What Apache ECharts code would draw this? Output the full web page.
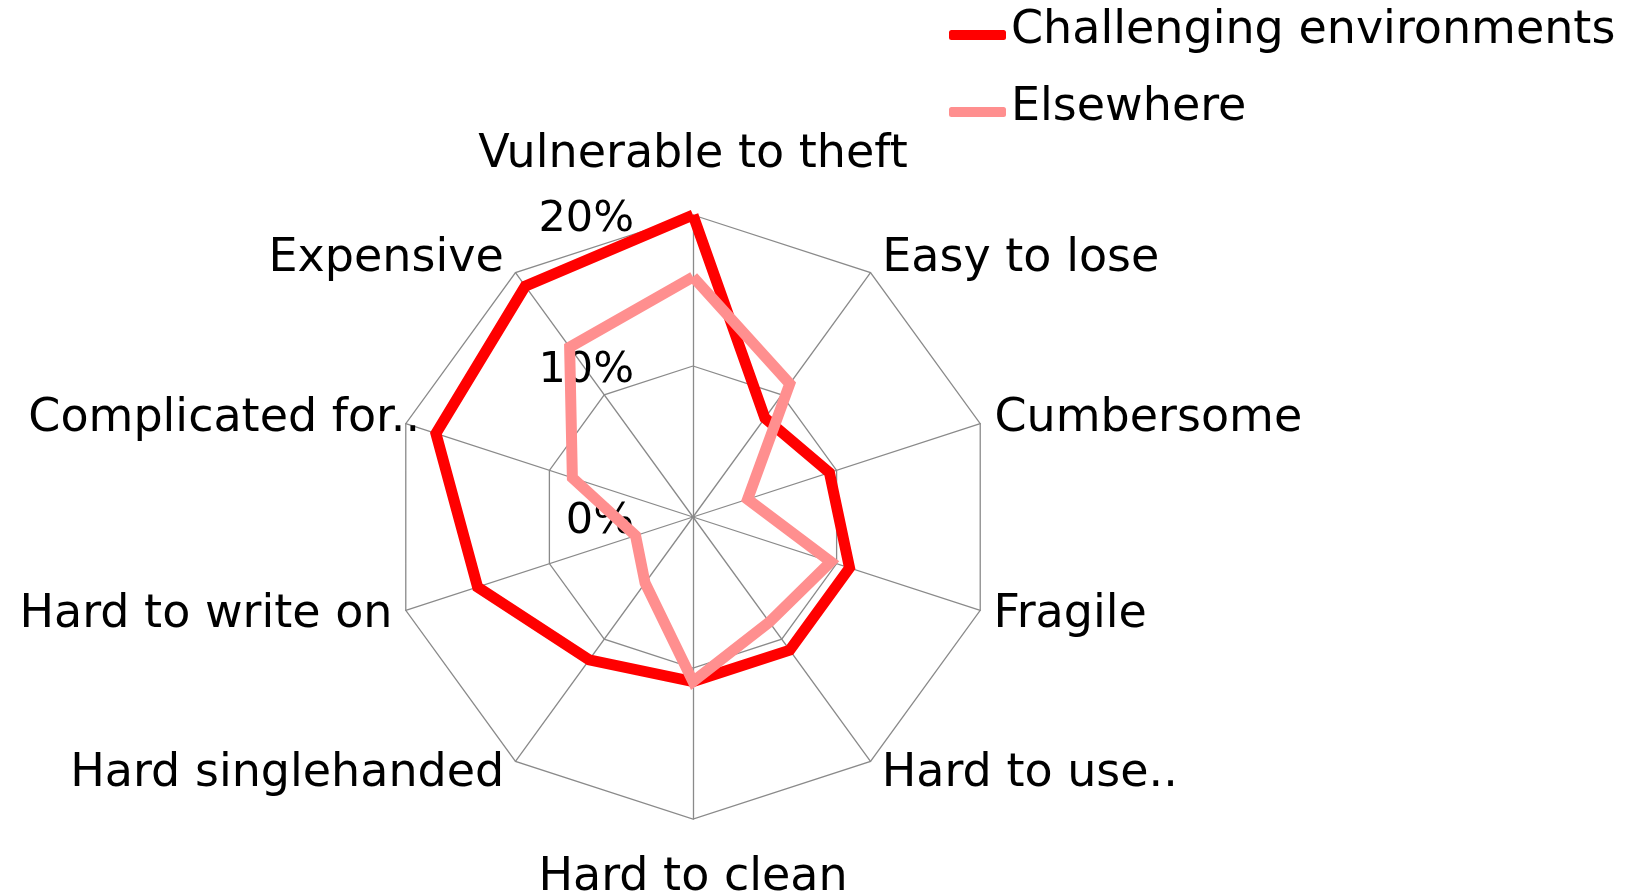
<!DOCTYPE html>
<html>
<head>
<meta charset="utf-8">
<script src="https://cdn.jsdelivr.net/npm/echarts@6/dist/echarts.min.js"></script>
<style>
html, body { margin: 0; padding: 0; background: #fff; }
#chart-radar-div { width: 1629px; height: 894px; }
</style>
</head>
<body>
<div id="chart-radar-div"></div>
<script>
// indicator names, counter-clockwise from the top (echarts radar order)
var g_indicators = [
	"Vulnerable to theft",
	"Expensive",
	"Complicated for..",
	"Hard to write on",
	"Hard singlehanded",
	"Hard to clean",
	"Hard to use..",
	"Fragile",
	"Cumbersome",
	"Easy to lose"
];
// percentages, same order as above
var g_challenging = [20, 18.9, 17.9, 15, 11.7, 10.9, 10.9, 10.9, 9.5, 8.1];
var g_elsewhere = [15.9, 13.9, 8.4, 4, 5.4, 10.9, 8.6, 9.6, 3.8, 10.9];
var g_series_names = ["Challenging environments", "Elsewhere"];
var g_axis_max = 20;
var g_axis_split = 2;

var FONT = "DejaVu Sans";

// label placement tweaks per axis: nameGap and vertical nudge (px, + is down)
var name_gap = [37, 20, -15, 14, 19, 36, 19, 14, 15, 20];
var name_nudge = [0, 3, -9, 0, -3, 0, -3, 0, 0, 3];

function text_style(pad) {
	return {
		fontSize: 46,
		fontFamily: FONT,
		color: "#000",
		padding: pad
	};
}

// rich styles: padding shifts the glyphs by half its size
var name_rich = {};
name_nudge.forEach(function (s, i) {
	name_rich["n" + i] = text_style(s > 0 ? [2 * s, 0, 0, 0]
					  : [0, 0, -2 * s, 0]);
});

var indicator = g_indicators.map(function (name, i) {
	var ind = {
		name: name,
		min: 0,
		max: g_axis_max,
		nameGap: name_gap[i]
	};
	// only the top axis carries the percent labels
	if (i === 0) {
		ind.axisLabel = {
			show: true,
			margin: 59,
			formatter: function (v) {
				return "{p|" + v + "%}";
			},
			rich: {
				p: {
					fontSize: 43,
					fontFamily: FONT,
					color: "#000",
					padding: [10, 0, 0, 0]
				}
			}
		};
	}
	return ind;
});

var option = {
	animation: false,
	backgroundColor: "#fff",
	legend: {
		orient: "vertical",
		left: 944,
		top: 3,
		align: "left",
		icon: "roundRect",
		itemWidth: 57,
		itemHeight: 10,
		itemGap: 31,
		data: g_series_names,
		formatter: "{a|{name}}",
		textStyle: {
			fontSize: 46,
			fontFamily: FONT,
			color: "#000",
			rich: { a: text_style([0, 0, 8, 0]) }
		}
	},
	radar: {
		center: [693, 517],
		radius: 302,
		startAngle: 90,
		splitNumber: g_axis_split,
		shape: "polygon",
		indicator: indicator,
		axisName: {
			color: "#000",
			fontSize: 46,
			fontFamily: FONT,
			formatter: function (name) {
				return "{n" + g_indicators.indexOf(name) + "|" + name + "}";
			},
			rich: name_rich
		},
		axisLabel: { show: false },
		axisLine: { lineStyle: { color: "#8a8a8a", width: 1.3 } },
		splitLine: { lineStyle: { color: "#8a8a8a", width: 1.3 } },
		splitArea: { show: false }
	},
	series: [
		{
			type: "radar",
			symbol: "none",
			data: [
				{
					name: g_series_names[0],
					value: g_challenging,
					lineStyle: { color: "#ff0000", width: 11, join: "miter" },
					itemStyle: { color: "#ff0000" }
				},
				{
					name: g_series_names[1],
					value: g_elsewhere,
					lineStyle: { color: "#ff8f8f", width: 11, join: "miter" },
					itemStyle: { color: "#ff8f8f" }
				}
			]
		}
	]
};

var chart = echarts.init(document.getElementById("chart-radar-div"));
chart.setOption(option);
window.addEventListener("resize", chart.resize);
</script>
</body>
</html>
